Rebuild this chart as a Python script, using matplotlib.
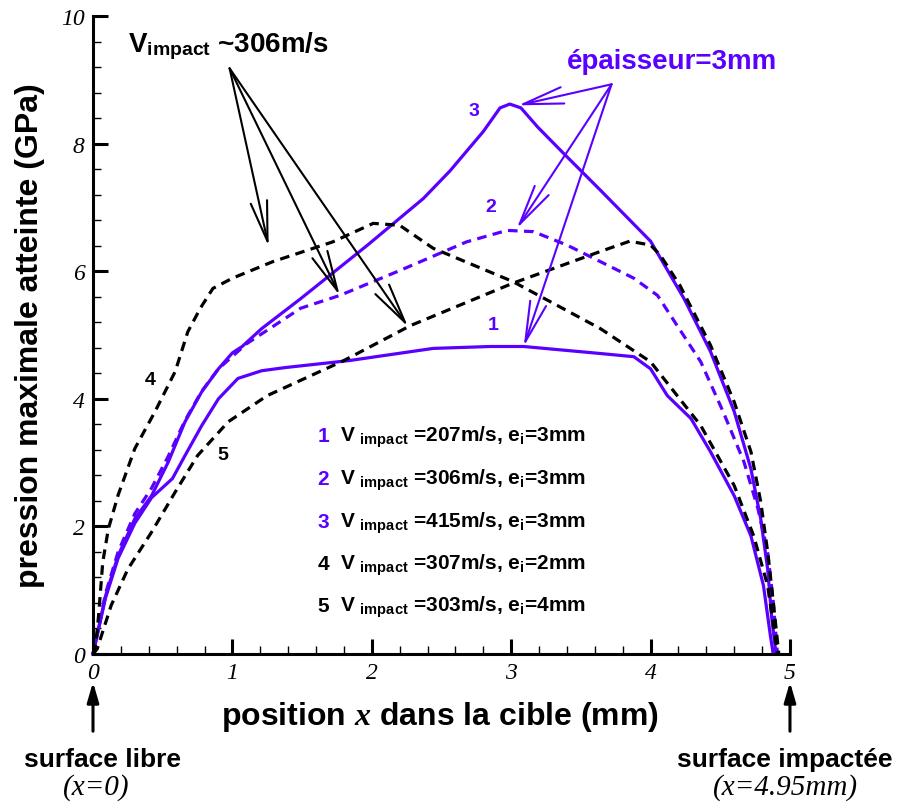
import matplotlib
matplotlib.use('Agg')
import matplotlib.pyplot as plt
from matplotlib.ticker import MultipleLocator

plt.rcParams['font.family'] = ['Liberation Sans', 'DejaVu Sans']
plt.rcParams['font.weight'] = 'bold'
plt.rcParams['mathtext.fontset'] = 'custom'
plt.rcParams['mathtext.rm'] = 'Liberation Sans:bold'
plt.rcParams['mathtext.bf'] = 'Liberation Sans:bold'
plt.rcParams['mathtext.it'] = 'Liberation Serif:italic'

PURPLE = '#5a00ff'

# courbe 1 : V=207 m/s, e=3mm
x1 = [0, 0.09, 0.18, 0.3, 0.42, 0.57, 0.66, 0.78, 0.9, 1.04, 1.21, 1.38, 1.84, 2.44, 2.85,
      3.09, 3.64, 3.88, 4.0, 4.12, 4.29, 4.43, 4.6, 4.72, 4.81, 4.86, 4.88]
y1 = [0, 0.88, 1.5, 2.05, 2.45, 2.75, 3.11, 3.58, 4.0, 4.32, 4.44, 4.49, 4.6, 4.79, 4.82,
      4.82, 4.71, 4.66, 4.47, 4.05, 3.69, 3.17, 2.48, 1.85, 1.07, 0.28, 0]
# courbe 2 : V=306 m/s, e=3mm
x2 = [0, 0.09, 0.18, 0.3, 0.42, 0.54, 0.66, 0.78, 0.9, 1.1, 1.49, 1.77, 2.2, 2.68, 2.97,
      3.16, 3.4, 3.64, 3.88, 4.05, 4.19, 4.36, 4.52, 4.67, 4.77, 4.84, 4.88, 4.91]
y2 = [0, 0.95, 1.6, 2.2, 2.6, 3.1, 3.66, 4.12, 4.47, 4.86, 5.42, 5.62, 6.01, 6.46, 6.64,
      6.62, 6.41, 6.15, 5.89, 5.62, 5.15, 4.58, 3.8, 3.01, 2.28, 1.6, 0.82, 0]
# courbe 3 : V=415 m/s, e=3mm
x3 = [0, 0.09, 0.18, 0.3, 0.42, 0.54, 0.66, 0.78, 0.9, 1.0, 1.07, 1.21, 1.49, 1.97, 2.37,
      2.56, 2.8, 2.92, 2.99, 3.07, 3.19, 3.37, 3.64, 4.0, 4.24, 4.43, 4.6, 4.72, 4.79,
      4.84, 4.87, 4.9]
y3 = [0, 0.91, 1.54, 2.12, 2.48, 3.01, 3.64, 4.11, 4.47, 4.72, 4.82, 5.1, 5.57, 6.41, 7.14,
      7.57, 8.19, 8.56, 8.62, 8.56, 8.26, 7.86, 7.27, 6.47, 5.57, 4.74, 3.8, 2.9, 2.12,
      1.33, 0.55, 0]
# courbe 4 : V=307 m/s, e=2mm
x4 = [0, 0.02, 0.04, 0.07, 0.11, 0.18, 0.3, 0.445, 0.59, 0.68, 0.77, 0.86, 1.0, 1.29, 1.72,
      2.01, 2.2, 2.44, 3.01, 3.64, 4.0, 4.36, 4.6, 4.74, 4.84, 4.91]
y4 = [0, 0.15, 0.6, 1.44, 1.96, 2.49, 3.22, 3.8, 4.43, 5.05, 5.42, 5.73, 5.89, 6.15, 6.46,
      6.75, 6.72, 6.36, 5.84, 5.1, 4.58, 3.58, 2.64, 1.85, 1.07, 0]
# courbe 5 : V=303 m/s, e=4mm
x5 = [0, 0.03, 0.13, 0.25, 0.42, 0.59, 0.75, 0.97, 1.25, 1.8, 2.28, 3.01, 3.64, 3.85, 4.0,
      4.07, 4.21, 4.43, 4.6, 4.72, 4.79, 4.84, 4.88, 4.92]
y5 = [0, 0.08, 0.76, 1.33, 1.91, 2.54, 3.11, 3.64, 4.05, 4.6, 5.15, 5.81, 6.31, 6.47, 6.41,
      6.25, 5.78, 4.84, 3.95, 3.17, 2.39, 1.6, 0.82, 0]

legend_num = ['1', '2', '3', '4', '5']
legend_txt = [r'V $_{\rm impact}$ =207m/s, e$_{\rm i}$=3mm',
              r'V $_{\rm impact}$ =306m/s, e$_{\rm i}$=3mm',
              r'V $_{\rm impact}$ =415m/s, e$_{\rm i}$=3mm',
              r'V $_{\rm impact}$ =307m/s, e$_{\rm i}$=2mm',
              r'V $_{\rm impact}$ =303m/s, e$_{\rm i}$=4mm']
legend_col = [PURPLE, PURPLE, PURPLE, 'black', 'black']
legend_y = [3.34, 2.67, 1.99, 1.34, 0.68]

fig = plt.figure(figsize=(9.02, 8.03), dpi=100)
ax = fig.add_axes([0.1031, 0.1843, 0.7727, 0.7945])

dash = (0, (3, 2))
ax.plot(x1, y1, color=PURPLE, lw=2.3, clip_on=False, solid_joinstyle='round')
ax.plot(x2, y2, color=PURPLE, lw=2.3, ls=dash, clip_on=False)
ax.plot(x3, y3, color=PURPLE, lw=2.3, clip_on=False, solid_joinstyle='round')
ax.plot(x4, y4, color='black', lw=2.3, ls=dash, clip_on=False)
ax.plot(x5, y5, color='black', lw=2.3, ls=dash, clip_on=False)

ax.set_xlim(0, 5)
ax.set_ylim(0, 10)
ax.set_xticks(range(6))
ax.set_yticks(range(0, 11, 2))
ax.xaxis.set_minor_locator(MultipleLocator(0.2))
ax.yaxis.set_minor_locator(MultipleLocator(0.4))
ax.tick_params(which='major', direction='in', length=11, width=2.2, pad=6)
ax.tick_params(which='minor', direction='in', length=6, width=1)
for lab in ax.get_xticklabels() + ax.get_yticklabels():
    lab.set_fontfamily('Liberation Serif')
    lab.set_fontstyle('italic')
    lab.set_fontweight('normal')
    lab.set_fontsize(17)
for s in ['top', 'right']:
    ax.spines[s].set_visible(False)
for s in ['left', 'bottom']:
    ax.spines[s].set_linewidth(2.2)

ax.set_ylabel('pression maximale atteinte (GPa)', fontsize=23, fontweight='bold')
ax.yaxis.set_label_coords(-0.069, 0.5)
ax.set_xlabel(r'position $\mathit{x}$ dans la cible (mm)', fontsize=23, fontweight='bold')
ax.xaxis.set_label_coords(0.498, -0.07)

# etiquettes des courbes
ax.text(2.87, 5.16, '1', color=PURPLE, fontsize=14, ha='center', va='center')
ax.text(2.85, 7.02, '2', color=PURPLE, fontsize=14, ha='center', va='center')
ax.text(2.73, 8.52, '3', color=PURPLE, fontsize=14, ha='center', va='center')
ax.text(0.41, 4.3, '4', color='black', fontsize=14, ha='center', va='center')
ax.text(0.93, 3.12, '5', color='black', fontsize=14, ha='center', va='center')

# legende
for n, t, c, yy in zip(legend_num, legend_txt, legend_col, legend_y):
    ax.text(1.61, yy, n, color=c, fontsize=15, va='baseline')
    ax.text(1.77, yy, t, color='black', fontsize=15, va='baseline')

# fleches V_impact ~306
ax.text(0.25, 9.45, r'V$_{\rm impact}$ ~306m/s', fontsize=20, va='baseline')
arr_k = dict(arrowstyle='->,head_length=2.9,head_width=0.6', color='black', lw=1.5,
             shrinkA=0, shrinkB=0, mutation_scale=10)
for tip in [(1.26, 6.39), (1.77, 5.62), (2.26, 5.13)]:
    ax.annotate('', xy=tip, xytext=(0.98, 9.18), arrowprops=arr_k)

# fleches epaisseur
ax.text(3.40, 9.18, 'épaisseur=3mm', color=PURPLE, fontsize=20, va='baseline')
arr_p = dict(arrowstyle='->,head_length=2.9,head_width=0.6', color=PURPLE, lw=1.5,
             shrinkA=0, shrinkB=0, mutation_scale=10)
for tip in [(3.05, 8.6), (3.04, 6.67), (3.09, 4.82)]:
    ax.annotate('', xy=tip, xytext=(3.72, 8.93), arrowprops=arr_p)

# surfaces
arr_s = dict(arrowstyle='-|>,head_length=1.2,head_width=0.35', color='black', lw=2.2,
             shrinkA=0, shrinkB=0, mutation_scale=10)
for xx in [0, 5]:
    ax.annotate('', xy=(xx, -0.44), xytext=(xx, -1.21), arrowprops=arr_s,
                annotation_clip=False)

fig.text(102 / 902, 1 - 760 / 803, 'surface libre', fontsize=19, ha='center', va='center')
fig.text(96 / 902, 1 - 788 / 803, '(x=0)', fontsize=21, ha='center', va='center',
         family='Liberation Serif', style='italic', weight='normal')
fig.text(785 / 902, 1 - 760 / 803, 'surface impactée', fontsize=19, ha='center', va='center')
fig.text(786 / 902, 1 - 788 / 803, '(x=4.95mm)', fontsize=21, ha='center', va='center',
         family='Liberation Serif', style='italic', weight='normal')

fig.savefig('out.png', dpi=100)
